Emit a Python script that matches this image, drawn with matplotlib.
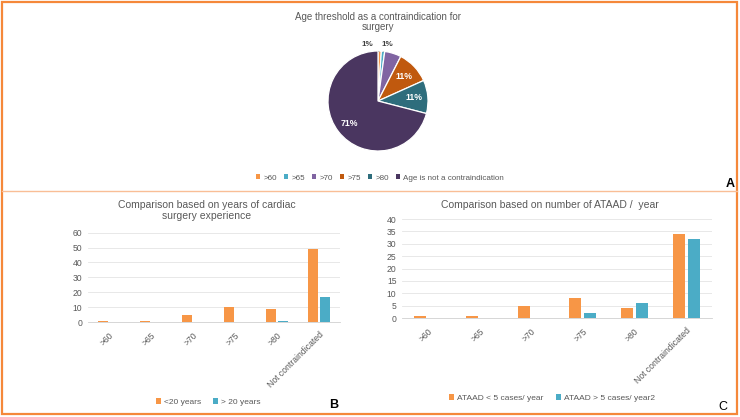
import numpy as np
import matplotlib.pyplot as plt
from matplotlib.patches import Rectangle, Patch
from matplotlib.lines import Line2D

# data
pie_labels = ['>60', '>65', '>70', '>75', '>80', 'Age is not a contraindication']
pie_counts = [1, 1, 5, 10, 10, 66]
pie_colors = ['#F79646', '#4BACC6', '#8064A2', '#C0590E', '#2E6D7C', '#4A3660']

categories = ['>60', '>65', '>70', '>75', '>80', 'Not contraindicated']
exp_lt20 = [1, 1, 5, 10, 9, 49]
exp_gt20 = [0, 0, 0, 0, 1, 17]
ataad_lt5 = [1, 1, 5, 8, 4, 34]
ataad_gt5 = [0, 0, 0, 2, 6, 32]

ORANGE = '#F79646'
BLUE = '#4BACC6'
GRAY = '#595959'
W, H = 740, 417

plt.rcParams['font.family'] = ['Liberation Sans', 'DejaVu Sans']

fig = plt.figure(figsize=(W / 100, H / 100), dpi=100)


def fx(px):
    return px / W


def fy(py):
    return 1 - py / H


# frame
fig.add_artist(Rectangle((fx(2), fy(414)), fx(735), 412 / H, transform=fig.transFigure,
                         fill=False, edgecolor='#F5883A', lw=1.6))
fig.add_artist(Line2D([fx(2), fx(737)], [fy(191), fy(191)], transform=fig.transFigure,
                      color='#F9BE96', lw=1.0))

# ---- A: pie ----
ax = fig.add_axes([fx(328), fy(151), fx(100), 100 / H])
wedges, _ = ax.pie(pie_counts, colors=pie_colors, startangle=90, counterclock=False,
                   wedgeprops=dict(edgecolor='white', linewidth=0.9))
ax.set_xlim(-1, 1)
ax.set_ylim(-1, 1)
ax.set_aspect('equal')
total = sum(pie_counts)
for i, w in enumerate(wedges):
    pct = round(100 * pie_counts[i] / total)
    mid = np.deg2rad((w.theta1 + w.theta2) / 2)
    x, y = np.cos(mid), np.sin(mid)
    if i in (0, 1):
        tx = -0.22 if i == 0 else 0.18
        ax.annotate(f'{pct}%', xy=(0.98 * x, 0.98 * y), xytext=(tx, 1.12),
                    ha='center', va='center', fontsize=5.8, fontweight='bold', color='#404040',
                    arrowprops=dict(arrowstyle='-', color='#a6a6a6', lw=0.4),
                    annotation_clip=False)
    elif i == 2:
        continue
    else:
        ax.text(0.72 * x, 0.72 * y, f'{pct}%', ha='center', va='center',
                fontsize=6.3, fontweight='bold', color='white')

fig.text(fx(378), fy(22), 'Age threshold as a contraindication for\nsurgery', ha='center',
         va='center', fontsize=7, color=GRAY, linespacing=1.1)
handles = [Patch(facecolor=c) for c in pie_colors]
fig.legend(handles, pie_labels, loc='center', bbox_to_anchor=(fx(380), fy(178)), ncol=6,
           frameon=False, fontsize=5.8, handlelength=0.5, handleheight=0.5,
           handletextpad=0.4, columnspacing=0.9, labelcolor=GRAY)
fig.text(fx(730), fy(184), 'A', ha='center', va='center', fontsize=9, fontweight='bold')


# ---- bar panels ----
def bar_panel(rect, a, b, ymax, step, width, off):
    ax = fig.add_axes(rect)
    x = np.arange(len(categories))
    ba = ax.bar(x - off, a, width, color=ORANGE)
    bb = ax.bar(x + off, b, width, color=BLUE)
    ax.set_xlim(-0.5, len(categories) - 0.5)
    ax.set_ylim(0, ymax)
    ax.set_yticks(np.arange(0, ymax + 1, step))
    ax.set_xticks(x)
    ax.set_xticklabels(categories, rotation=45, ha='right', rotation_mode='anchor')
    ax.tick_params(length=0, labelsize=6.2, labelcolor=GRAY)
    ax.tick_params(axis='x', pad=6)
    ax.tick_params(axis='y', pad=4)
    ax.yaxis.grid(True, color='#e4e4e4', lw=0.6)
    ax.set_axisbelow(True)
    for s in ['top', 'right', 'left']:
        ax.spines[s].set_visible(False)
    ax.spines['bottom'].set_color('#d0d0d0')
    ax.spines['bottom'].set_linewidth(0.6)
    return ba, bb


ba, bb = bar_panel([fx(88), fy(322), fx(252), 89.3 / H], exp_lt20, exp_gt20, 60, 10, 0.23, 0.145)
fig.text(fx(207), fy(210.5), 'Comparison based on years of cardiac\nsurgery experience',
         ha='center', va='center', fontsize=7.5, color=GRAY, linespacing=1.1)
fig.legend([ba, bb], ['<20 years', '> 20 years'], loc='center', bbox_to_anchor=(fx(208), fy(402)),
           ncol=2, frameon=False, fontsize=6, handlelength=0.6, handleheight=0.6,
           handletextpad=0.4, columnspacing=1.4, labelcolor=GRAY)
fig.text(fx(334), fy(405), 'B', ha='center', va='center', fontsize=9, fontweight='bold')

ca, cb = bar_panel([fx(402), fy(318), fx(310), 99 / H], ataad_lt5, ataad_gt5, 40, 5, 0.23, 0.145)
fig.text(fx(550), fy(205), 'Comparison based on number of ATAAD /  year',
         ha='center', va='center', fontsize=7.5, color=GRAY)
fig.legend([ca, cb], ['ATAAD < 5 cases/ year', 'ATAAD > 5 cases/ year2'], loc='center',
           bbox_to_anchor=(fx(552), fy(398)), ncol=2, frameon=False, fontsize=6,
           handlelength=0.6, handleheight=0.6, handletextpad=0.4, columnspacing=1.4,
           labelcolor=GRAY)
fig.text(fx(723), fy(407), 'C', ha='center', va='center', fontsize=9)

fig.savefig('out.png', dpi=100)
